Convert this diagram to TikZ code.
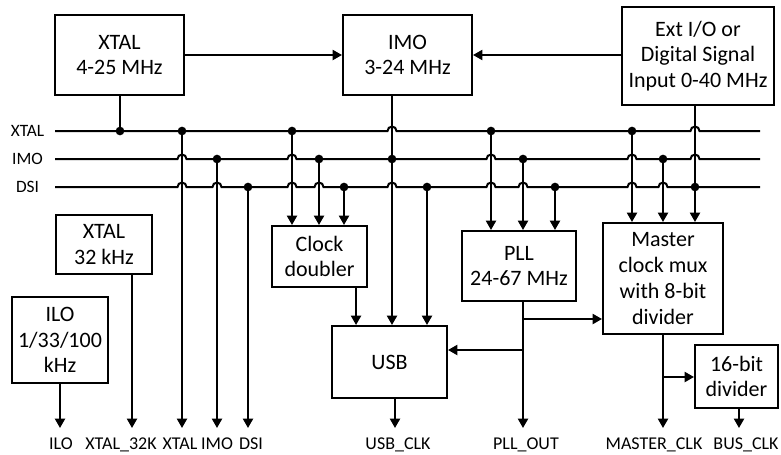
\documentclass[tikz,border=0pt]{standalone}
\usepackage{fontspec}
\setmainfont{Carlito}
\usetikzlibrary{arrows.meta, positioning, calc}

\begin{document}
\begin{tikzpicture}[x=0.75pt, y=-0.75pt,
    blk/.style={draw, line width=1.5pt, align=center, inner sep=2pt, font=\fontsize{16.5}{19.3}\selectfont},
    sig/.style={-{Triangle[length=7pt,width=7.5pt]}, line width=1.5pt},
    wire/.style={line width=1.5pt},
    tap/.style={circle, fill, inner sep=0pt, minimum size=6.5pt},
    buslbl/.style={font=\fontsize{13}{15}\selectfont},
    outlbl/.style={anchor=base, font=\fontsize{13.5}{16}\selectfont}]
    \useasboundingbox (0,0) rectangle (781,454);

    % Clock sources
    \node[blk, minimum width=96.75pt, minimum height=60pt] (xtal) at (119.5,55) {XTAL\\4-25 MHz};
    \node[blk, minimum width=96.75pt, minimum height=60pt] (imo) at (407.5,55) {IMO\\3-24 MHz};
    \node[blk, minimum width=114pt, minimum height=73.5pt] (ext) at (698,56) {Ext I/O or\\Digital Signal\\Input 0-40 MHz};
    \node[blk, minimum width=72pt, minimum height=44.25pt] (xtal32) at (104,244.5) {XTAL\\32 kHz};
    \node[blk, minimum width=72pt, minimum height=64.5pt] (ilo) at (60,340) {ILO\\1/33/100\\kHz};

    % Clock blocks
    \node[blk, minimum width=71.25pt, minimum height=45.75pt] (dbl) at (319.5,256.5) {Clock\\doubler};
    \node[blk, minimum width=85.5pt, minimum height=52.5pt] (pll) at (519,266) {PLL\\24-67 MHz};
    \node[blk, minimum width=90pt, minimum height=83.25pt] (mux) at (663,278.5) {Master\\clock mux\\with 8-bit\\divider};
    \node[blk, minimum width=86.25pt, minimum height=54pt] (usb) at (389.5,362) {USB};
    \node[blk, minimum width=62.25pt, minimum height=47.25pt] (div) at (736.5,376.5) {16-bit\\divider};

    % Buses
    \node[buslbl] (lxtal) at (27.5,131) {XTAL};
    \node[buslbl] (limo) at (27.5,159) {IMO};
    \node[buslbl] (ldsi) at (27.5,187) {DSI};
    \coordinate (xtalL) at (55,131); \coordinate (xtalR) at (760,131);
    \coordinate (imoL) at (55,159);  \coordinate (imoR) at (760,159);
    \coordinate (dsiL) at (55,187);  \coordinate (dsiR) at (760,187);
    \draw[wire] (xtalL) foreach \h in {392,695} {-- (\h-4.5,131) arc[start angle=180, end angle=0, radius=3.375pt]} -- (xtalR);
    \draw[wire] (imoL) foreach \h in {182,292,491,632,695} {-- (\h-4.5,159) arc[start angle=180, end angle=0, radius=3.375pt]} -- (imoR);
    \draw[wire] (dsiL) foreach \h in {182,217,292,319,392,491,523,632,663} {-- (\h-4.5,187) arc[start angle=180, end angle=0, radius=3.375pt]} -- (dsiR);

    % Taps
    \foreach \x in {120,182,292,491,632} \node[tap] (tx\x) at (\x,131) {};
    \foreach \x in {217,319,392,523,663} \node[tap] (ti\x) at (\x,159) {};
    \foreach \x in {248,344,427,555,695} \node[tap] (td\x) at (\x,187) {};

    % Output ends
    \coordinate (oilo) at (60,428);
    \coordinate (o32k) at (132,428);
    \coordinate (oxtal) at (182,428);
    \coordinate (oimo) at (217,428);
    \coordinate (odsi) at (248,428);
    \coordinate (ousb) at (395,428);
    \coordinate (opll) at (523,428);
    \coordinate (omaster) at (663,428);
    \coordinate (obus) at (739,428);

    % Arrows
    \draw[sig] (xtal) -- (imo);
    \draw[sig] (ext.west |- imo) -- (imo.east);
    \draw[wire] (tx120 |- xtal.south) -- (tx120.center);
    \draw[sig] (ti392 |- imo.south) -- (ti392 |- usb.north);
    \draw[sig] (td695 |- ext.south) -- (td695 |- mux.north);
    \draw[sig] (tx182.center) -- (oxtal);
    \draw[sig] (ti217.center) -- (oimo);
    \draw[sig] (td248.center) -- (odsi);
    \foreach \t in {tx292,ti319,td344} \draw[sig] (\t.center) -- (\t |- dbl.north);
    \draw[sig] (td427.center) -- (td427 |- usb.north);
    \foreach \t in {tx491,ti523,td555} \draw[sig] (\t.center) -- (\t |- pll.north);
    \foreach \t in {tx632,ti663} \draw[sig] (\t.center) -- (\t |- mux.north);
    \draw[sig] (o32k |- xtal32.south) -- (o32k);
    \draw[sig] (oilo |- ilo.south) -- (oilo);
    \coordinate (dblout) at ([xshift=27.4pt]dbl.south);
    \draw[sig] (dblout) -- (dblout |- usb.north);
    \draw[sig] (ousb |- usb.south) -- (ousb);
    \draw[sig] (opll |- pll.south) -- (opll);
    \coordinate (pllA) at (523,319);
    \coordinate (pllB) at (523,350);
    \draw[sig] (pllA) -- (pllA -| mux.west);
    \draw[sig] (pllB) -- (pllB -| usb.east);
    \draw[sig] (omaster |- mux.south) -- (omaster);
    \coordinate (muxA) at (663,377);
    \draw[sig] (muxA) -- (muxA -| div.west);
    \draw[sig] (obus |- div.south) -- (obus);

    % Output labels
    \node[outlbl] (lilo) at (61,449) {ILO};
    \node[outlbl] (l32k) at (121,449) {XTAL\_32K};
    \node[outlbl] (loxtal) at (180,449) {XTAL};
    \node[outlbl] (loimo) at (217,449) {IMO};
    \node[outlbl] (lodsi) at (251,449) {DSI};
    \node[outlbl] (lusb) at (398,449) {USB\_CLK};
    \node[outlbl] (lpll) at (526,449) {PLL\_OUT};
    \node[outlbl] (lmaster) at (654,449) {MASTER\_CLK};
    \node[outlbl] (lbus) at (746,449) {BUS\_CLK};
\end{tikzpicture}
\end{document}
